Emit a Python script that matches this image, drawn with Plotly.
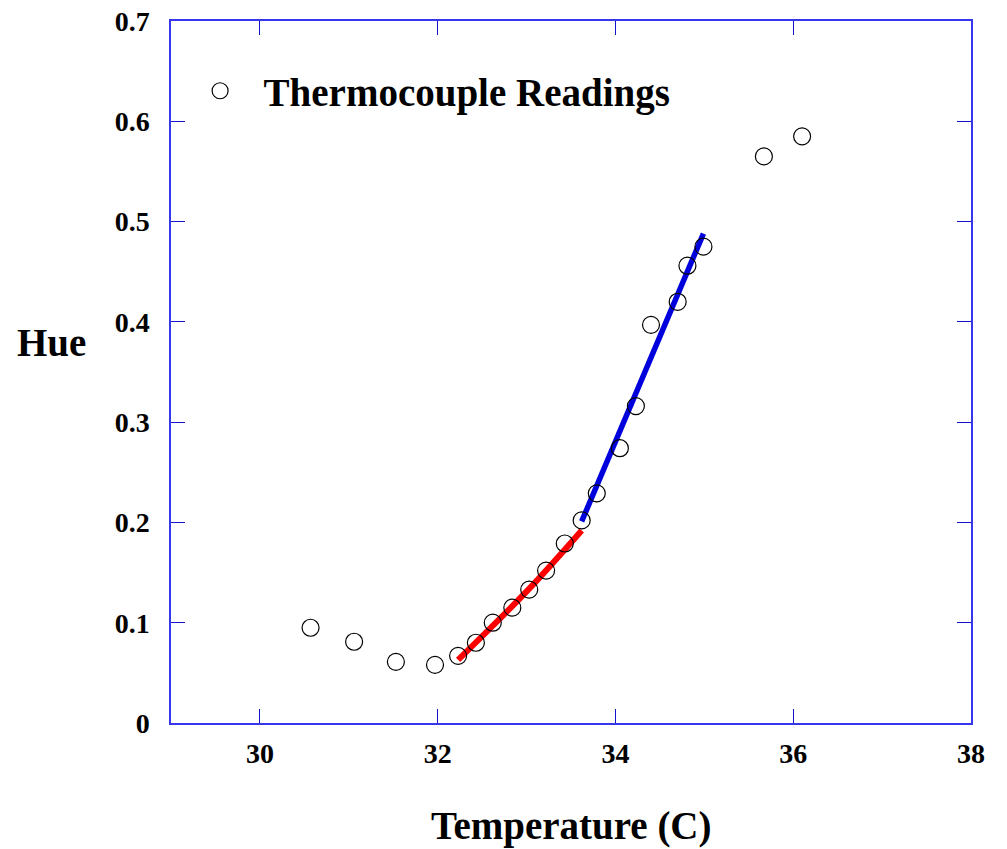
import plotly.graph_objects as go

# Thermocouple readings: temperature (C) vs hue
temperature = [30.57, 31.06, 31.53, 31.97, 32.23, 32.43, 32.62, 32.84, 33.03, 33.22,
               33.43, 33.62, 33.79, 34.05, 34.23, 34.40, 34.70, 34.81, 34.99, 35.67, 36.10]
hue = [0.095, 0.081, 0.061, 0.058, 0.067, 0.080, 0.100, 0.115, 0.133, 0.152,
       0.179, 0.202, 0.229, 0.274, 0.316, 0.397, 0.420, 0.456, 0.475, 0.565, 0.585]

# Fitted segments over the low and high ranges
low_fit_t = [32.23, 33.02, 33.62]
low_fit_h = [0.063, 0.133, 0.192]
high_fit_t = [33.62, 34.99]
high_fit_h = [0.201, 0.488]

x_ticks = [30, 32, 34, 36, 38]
y_ticks = [0, 0.1, 0.2, 0.3, 0.4, 0.5, 0.6, 0.7]

FONT = "Liberation Serif"
AXIS_BLUE = "rgb(55,55,235)"
TICK_BLUE = "rgb(20,20,205)"

fig = go.Figure()

fig.add_trace(go.Scatter(
    x=low_fit_t, y=low_fit_h, mode="lines",
    line=dict(color="rgb(255,0,0)", width=6, shape="spline"),
    showlegend=False, hoverinfo="skip",
))
fig.add_trace(go.Scatter(
    x=high_fit_t, y=high_fit_h, mode="lines",
    line=dict(color="rgb(0,0,220)", width=5.5),
    showlegend=False, hoverinfo="skip",
))
fig.add_trace(go.Scatter(
    x=temperature, y=hue, mode="markers",
    name="<b>Thermocouple Readings</b>",
    marker=dict(symbol="circle-open", size=17, color="black", line=dict(width=1.2, color="black")),
))

axis_common = dict(
    showline=True, linecolor=AXIS_BLUE, linewidth=1.5, mirror="allticks",
    ticks="inside", ticklen=14, tickwidth=1.3, tickcolor=TICK_BLUE,
    showgrid=False, zeroline=False, automargin=False,
    tickfont=dict(family=FONT, size=28, color="black", weight="bold"),
)

fig.update_xaxes(range=[29, 38], tickvals=x_ticks, ticktext=[str(v) for v in x_ticks],
                 ticklabelstandoff=5, **axis_common)
fig.update_yaxes(range=[0, 0.7], tickvals=y_ticks, ticktext=[f"{v:g}" for v in y_ticks],
                 ticklabelstandoff=14, **axis_common)

fig.add_annotation(text="<b>Hue</b>", xref="paper", yref="paper", x=-0.149, y=0.542,
                   xanchor="center", yanchor="middle", showarrow=False,
                   font=dict(family=FONT, size=39, color="black"))
fig.add_annotation(text="<b>Temperature (C)</b>", xref="paper", yref="paper", x=0.5, y=-0.147,
                   xanchor="center", yanchor="middle", showarrow=False,
                   font=dict(family=FONT, size=39, color="black"))

fig.update_layout(
    width=1007, height=849,
    margin=dict(l=171, r=36, t=21, b=126),
    plot_bgcolor="white", paper_bgcolor="white",
    legend=dict(x=0.007, y=0.946, xanchor="left", yanchor="top",
                bgcolor="rgba(0,0,0,0)", itemwidth=77,
                font=dict(family=FONT, size=39, color="black")),
)

fig.write_html("out.html")
